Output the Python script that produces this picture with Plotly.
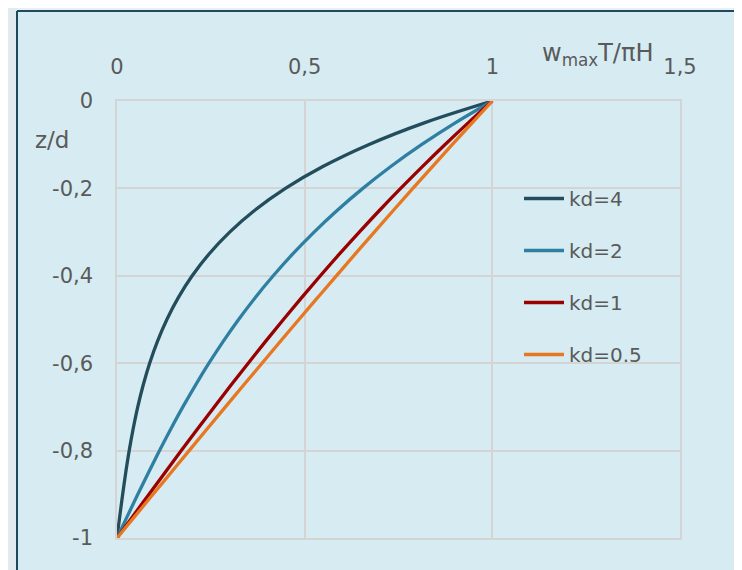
import plotly.graph_objects as go

# depth z/d (shared for all curves)
z_d = [-1.0, -0.95, -0.9, -0.85, -0.8, -0.75, -0.7, -0.65, -0.6, -0.55, -0.5,
       -0.45, -0.4, -0.35, -0.3, -0.25, -0.2, -0.15, -0.1, -0.05, 0.0]

# w_max T / (pi H)
w_kd4 = [0, 0.0074, 0.0151, 0.0233, 0.0325, 0.0431, 0.0553, 0.0698, 0.0870, 0.1078,
         0.1329, 0.1633, 0.2003, 0.2453, 0.3002, 0.3671, 0.4487, 0.5484, 0.6701, 0.8186, 1.0]
w_kd2 = [0, 0.0276, 0.0555, 0.0840, 0.1133, 0.1437, 0.1755, 0.2092, 0.2449, 0.2830,
         0.3240, 0.3682, 0.4162, 0.4683, 0.5251, 0.5871, 0.6550, 0.7294, 0.8112, 0.9011, 1.0]
w_kd1 = [0, 0.0425, 0.0853, 0.1281, 0.1713, 0.2149, 0.2591, 0.3039, 0.3496, 0.3959,
         0.4434, 0.4920, 0.5418, 0.5928, 0.6455, 0.6997, 0.7557, 0.8136, 0.8735, 0.9356, 1.0]
w_kd05 = [0, 0.0480, 0.0960, 0.1441, 0.1922, 0.2405, 0.2889, 0.3375, 0.3864, 0.4354,
          0.4847, 0.5344, 0.5844, 0.6348, 0.6855, 0.7366, 0.7882, 0.8404, 0.8930, 0.9462, 1.0]

series_names = ["kd=4", "kd=2", "kd=1", "kd=0.5"]
series_vals = [w_kd4, w_kd2, w_kd1, w_kd05]
series_colors = ["#234d5c", "#2f7fa3", "#990000", "#e87722"]

x_tickvals = [0, 0.5, 1, 1.5]
x_ticktext = ["0", "0,5", "1", "1,5"]
y_tickvals = [0, -0.2, -0.4, -0.6, -0.8, -1]
y_ticktext = ["0", "-0,2", "-0,4", "-0,6", "-0,8", "-1"]

grey = "#5a5a5a"
gridc = "#d4d4d4"
tick_font = dict(family="DejaVu Sans, sans-serif", size=21, color=grey)

# plot box in page pixels (reference): left 117, right 680, top 101, bottom 538
PL, PR, PT, PB = 117, 680, 101, 538
PW, PH = PR - PL, PB - PT


def px_x(p):
    return (p - PL) / PW


def px_y(p):
    return (PB - p) / PH


fig = go.Figure()
for name, vals, col in zip(series_names, series_vals, series_colors):
    fig.add_trace(go.Scatter(
        x=vals, y=z_d, mode="lines", name=name, legendgroup=name,
        line=dict(color=col, width=3.3, shape="spline"),
    ))

OFF = 8  # page body margin
fig.update_layout(
    width=742, height=570,
    margin=dict(l=PL - OFF, r=742 - PR + OFF, t=PT - OFF, b=570 - PB + OFF, autoexpand=False),
    paper_bgcolor="#d6ecf2",
    plot_bgcolor="rgba(0,0,0,0)",
    showlegend=True,
    legend=dict(
        x=px_x(519), y=px_y(179), xanchor="left", yanchor="top",
        bgcolor="rgba(0,0,0,0)",
        font=dict(family="DejaVu Sans, sans-serif", size=20, color=grey),
        tracegroupgap=23, itemwidth=40,
    ),
    xaxis=dict(
        range=[0, 1.5], side="top", tickvals=x_tickvals, ticktext=x_ticktext,
        showgrid=True, gridcolor=gridc, gridwidth=1.5,
        showline=True, mirror=True, linecolor=gridc, linewidth=1.5,
        zeroline=False, ticks="", tickfont=tick_font,
        ticklabelstandoff=17,
    ),
    yaxis=dict(
        range=[-1, 0], tickvals=y_tickvals, ticktext=y_ticktext,
        showgrid=True, gridcolor=gridc, gridwidth=1.5,
        showline=True, mirror=True, linecolor=gridc, linewidth=1.5,
        zeroline=False, ticks="", tickfont=tick_font,
        ticklabelstandoff=18,
    ),
    shapes=[
        # light strips outside the frame
        dict(type="rect", xref="paper", yref="paper", x0=px_x(-10), x1=px_x(760), y0=px_y(11), y1=px_y(-10),
             fillcolor="#e8f0f2", line=dict(width=0), layer="below"),
        dict(type="rect", xref="paper", yref="paper", x0=px_x(-10), x1=px_x(17), y0=px_y(590), y1=px_y(-10),
             fillcolor="#e2ecee", line=dict(width=0), layer="below"),
        # dark frame
        dict(type="line", xref="paper", yref="paper", x0=px_x(17), x1=px_x(17), y0=px_y(590), y1=px_y(11),
             line=dict(color="#1f4a5e", width=2)),
        dict(type="line", xref="paper", yref="paper", x0=px_x(17), x1=px_x(760), y0=px_y(11), y1=px_y(11),
             line=dict(color="#1f4a5e", width=2)),
    ],
    annotations=[
        dict(text="w<sub>max</sub>T/πH", xref="paper", yref="paper",
             x=px_x(597), y=px_y(54), xanchor="center", yanchor="middle",
             showarrow=False, font=dict(family="DejaVu Sans, sans-serif", size=24, color=grey)),
        dict(text="z/d", xref="paper", yref="paper",
             x=px_x(52), y=px_y(140), xanchor="center", yanchor="middle",
             showarrow=False, font=dict(family="DejaVu Sans, sans-serif", size=23, color=grey)),
    ],
)

fig.write_html("out.html")
